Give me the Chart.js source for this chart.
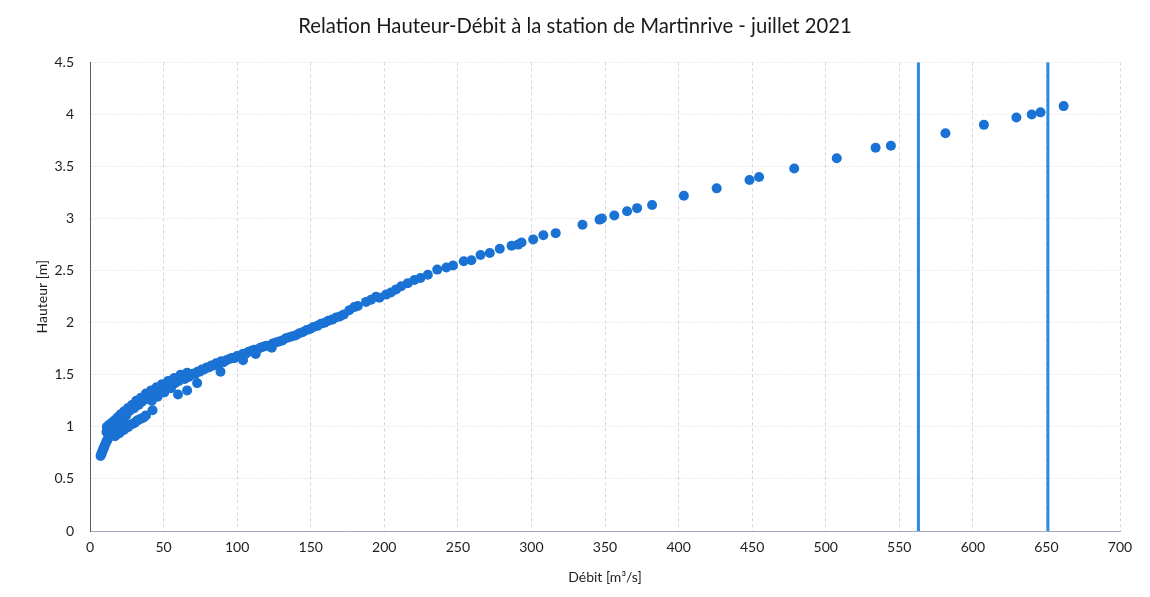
<!DOCTYPE html>
<html lang="fr">
<head>
<meta charset="utf-8">
<title>Relation Hauteur-Débit – Martinrive</title>
<script src="https://cdn.jsdelivr.net/npm/chart.js@4.4.1/dist/chart.umd.min.js"></script>
<style>
  html, body { margin: 0; padding: 0; background: #ffffff; }
  #wrap { width: 1150px; height: 597px; }
</style>
</head>
<body>
<div id="wrap"><canvas id="rating" width="1150" height="597"></canvas></div>
<script>
// Jaugeages [débit m³/s, hauteur m] – station de Martinrive, juillet 2021

// montée raide des très faibles débits
const risingLimb = [
  [7.2,0.72],[7.6,0.74],[8.1,0.75],[8.6,0.77],[9.0,0.79],[9.5,0.80],[10.0,0.82],
  [10.6,0.84],[11.1,0.86],[11.7,0.87],[12.3,0.89],[13.0,0.90],[13.8,0.92],[14.6,0.93],[15.5,0.94]
];

// nuage principal (faibles et moyens débits)
const mainBand = [
  [11.2,0.95],[11.9,0.97],[12.6,0.99],[13.4,0.96],[14.0,1.00],[15.1,0.99],[15.8,1.02],[16.7,1.01],
  [17.5,1.04],[18.3,1.03],[19.2,1.06],[20.1,1.05],[21.0,1.08],[22.0,1.09],[22.9,1.10],[23.8,1.12],
  [24.6,1.11],[25.5,1.14],[26.4,1.15],[27.3,1.16],[28.1,1.17],[29.0,1.19],[30.0,1.18],[31.0,1.20],
  [32.1,1.22],[33.0,1.21],[34.0,1.24],[35.1,1.24],[36.0,1.26],[37.1,1.26],[38.0,1.28],[39.2,1.28],
  [40.1,1.30],[41.3,1.31],[42.2,1.30],[43.4,1.33],[44.5,1.32],[45.6,1.35],[46.8,1.34],[48.0,1.37],
  [49.1,1.36],[50.3,1.38],[51.5,1.39],[52.8,1.38],[54.0,1.41],[55.3,1.41],[56.5,1.43],[57.8,1.42],
  [59.0,1.45],[60.4,1.44],[61.7,1.46],[63.0,1.47],[64.4,1.46],[65.8,1.49],[67.2,1.48],[68.6,1.50],
  [70.0,1.51],[71.5,1.51],[73.0,1.53],[74.5,1.53],[76.0,1.55],[77.6,1.55],[79.2,1.57],[80.8,1.57],
  [82.4,1.59],[84.0,1.59],[85.7,1.61],[87.4,1.61],[89.1,1.63],[90.8,1.62],[92.6,1.64],[94.4,1.65],
  [96.2,1.66],[98.0,1.66],[99.9,1.68],[101.8,1.68],[103.7,1.70],[105.6,1.70],[107.6,1.72],[109.6,1.73],
  [111.6,1.74],[113.6,1.74],[115.7,1.76],[117.8,1.77],[119.9,1.78],[122.0,1.78],[124.2,1.80],[126.4,1.81],
  [128.6,1.82],[130.8,1.83],[133.1,1.85],[135.4,1.86],[137.7,1.87],[140.0,1.88],[142.4,1.90],[144.8,1.91],
  [147.2,1.93],[149.6,1.94],[152.0,1.96],[154.5,1.97],[157.0,1.99],[159.5,2.00],[162.0,2.02],[164.6,2.03],
  [167.2,2.05],[169.8,2.06],[172.5,2.08]
];

// bord haut et bord bas du nuage principal
const upperEdge = [
  [11.5,1.00],[13.0,1.02],[14.8,1.04],[16.5,1.06],[18.6,1.09],[20.8,1.12],[23.2,1.15],[25.8,1.18],
  [28.5,1.21],[31.4,1.25],[34.6,1.28],[38.0,1.32],[41.5,1.35],[45.2,1.38],[49.0,1.41],[53.0,1.44],
  [57.2,1.47],[61.5,1.50],[66.0,1.52]
];
const lowerEdge = [
  [16.2,0.97],[18.0,0.99],[20.5,1.02],[23.0,1.05],[42.0,1.25],[46.0,1.29],[50.5,1.33],[55.0,1.37]
];

// branche basse détachée vers 20–40 m³/s
const lowerBranch = [
  [17.0,0.91],[18.5,0.93],[20.0,0.94],[21.5,0.96],[23.0,0.97],[24.5,0.99],[26.0,1.00],[27.5,1.02],
  [29.0,1.03],[30.5,1.04],[32.0,1.06],[33.5,1.07],[35.0,1.08],[36.5,1.09],[38.0,1.11],[42.5,1.16]
];

// jaugeages isolés sous la courbe
const scatterBelow = [
  [59.8,1.31],[66.0,1.35],[72.8,1.42],[88.7,1.53],[104.0,1.64],[112.6,1.70],[123.5,1.76]
];

// moyennes et hautes eaux
const upperRange = [
  [176.2,2.12],[179.6,2.15],[182.0,2.16],[187.6,2.20],[191.0,2.22],[194.4,2.25],[196.7,2.24],[201.2,2.27],
  [204.5,2.29],[208.0,2.32],[211.5,2.35],[216.0,2.38],[220.5,2.41],[224.6,2.43],[229.6,2.46],[236.0,2.51],
  [242.2,2.53],[246.7,2.55],[254.0,2.59],[259.2,2.60],[265.4,2.65],[271.7,2.67],[278.5,2.71],[286.5,2.74],
  [291.0,2.75],[293.3,2.77],[301.2,2.80],[308.1,2.84],[316.5,2.86],[334.7,2.94],[346.3,2.99],[347.9,3.00],
  [356.3,3.03],[365.0,3.07],[371.8,3.10],[382.0,3.13],[403.6,3.22],[425.9,3.29],[448.2,3.37],[454.7,3.40],
  [478.6,3.48],[507.5,3.58],[533.9,3.68],[544.3,3.70],[581.4,3.82],[607.5,3.90],[629.6,3.97],[640.0,4.00],
  [646.0,4.02],[661.7,4.08]
];

// débits repères tracés en verticales
const markerFlows = [563, 651];

// graduations
const xTicks = [0, 50, 100, 150, 200, 250, 300, 350, 400, 450, 500, 550, 600, 650, 700];
const yTicks = [0, 0.5, 1, 1.5, 2, 2.5, 3, 3.5, 4, 4.5];

const titleText = 'Relation Hauteur-Débit à la station de Martinrive - juillet 2021';
const xTitle = 'Débit [m³/s]';
const yTitle = 'Hauteur [m]';

const toXY = arr => arr.map(([q, h]) => ({ x: q, y: h }));
const gauging = [risingLimb, lowerBranch, lowerEdge, mainBand, upperEdge, scatterBelow, upperRange]
  .flatMap(toXY);

const yTop = yTicks[yTicks.length - 1];
const markerSets = markerFlows.map(q => ({
  type: 'line',
  data: [{ x: q, y: 0 }, { x: q, y: yTop }],
  borderColor: '#2a8ce2',
  borderWidth: 3,
  pointRadius: 0,
  pointHoverRadius: 0,
  showLine: true,
  fill: false,
  order: 0
}));

const font = 'Lato, "Open Sans", "DejaVu Sans", sans-serif';

// centre le titre sur toute la largeur du canevas
const titleOnPage = {
  id: 'titleOnPage',
  afterLayout(chart) {
    const t = chart.titleBlock;
    if (!t) return;
    const shift = chart.width / 2 - (t.left + t.right) / 2;
    t.left += shift;
    t.right += shift;
  }
};

new Chart(document.getElementById('rating'), {
  type: 'scatter',
  data: {
    datasets: [
      {
        label: 'Jaugeages',
        data: gauging,
        backgroundColor: '#1a72d4',
        borderColor: '#1a72d4',
        borderWidth: 0,
        pointRadius: 5,
        pointHoverRadius: 5,
        order: 1
      },
      ...markerSets
    ]
  },
  options: {
    responsive: false,
    animation: false,
    events: [],
    layout: { padding: { left: 0, right: 30, top: 0, bottom: 0 } },
    plugins: {
      legend: { display: false },
      tooltip: { enabled: false },
      title: {
        display: true,
        text: titleText,
        color: '#1b1b1b',
        font: { family: font, size: 20.3, weight: 'normal' },
        padding: { top: 14, bottom: 24 }
      }
    },
    scales: {
      x: {
        type: 'linear',
        min: 0,
        max: 700,
        afterBuildTicks: s => { s.ticks = xTicks.map(v => ({ value: v })); },
        afterFit: s => { s.height = 66; },
        grid: {
          color: 'rgba(165,172,190,0.5)',
          lineWidth: 1,
          drawTicks: false
        },
        border: { display: true, color: 'rgba(130,138,158,0.7)', dash: [3, 3] },
        ticks: {
          padding: 8,
          color: '#1e1e1e',
          font: { family: font, size: 14 },
          maxRotation: 0,
          callback: v => String(v)
        },
        title: {
          display: true,
          text: xTitle,
          color: '#1e1e1e',
          font: { family: font, size: 14 },
          padding: { top: 0, bottom: 11 }
        }
      },
      y: {
        type: 'linear',
        min: 0,
        max: 4.5,
        afterBuildTicks: s => { s.ticks = yTicks.map(v => ({ value: v })); },
        afterFit: s => { s.width = 90; },
        grid: {
          color: 'rgba(200,205,215,0.35)',
          lineWidth: 1,
          drawTicks: false
        },
        border: { display: true, color: 'rgba(60,65,80,0.85)', dash: [2, 1] },
        ticks: {
          padding: 16,
          color: '#1e1e1e',
          font: { family: font, size: 14 },
          callback: v => String(v)
        },
        title: {
          display: true,
          text: yTitle,
          color: '#1e1e1e',
          font: { family: font, size: 14 },
          padding: { top: 34, bottom: 0 }
        }
      }
    }
  },
  plugins: [titleOnPage]
});
</script>
</body>
</html>
